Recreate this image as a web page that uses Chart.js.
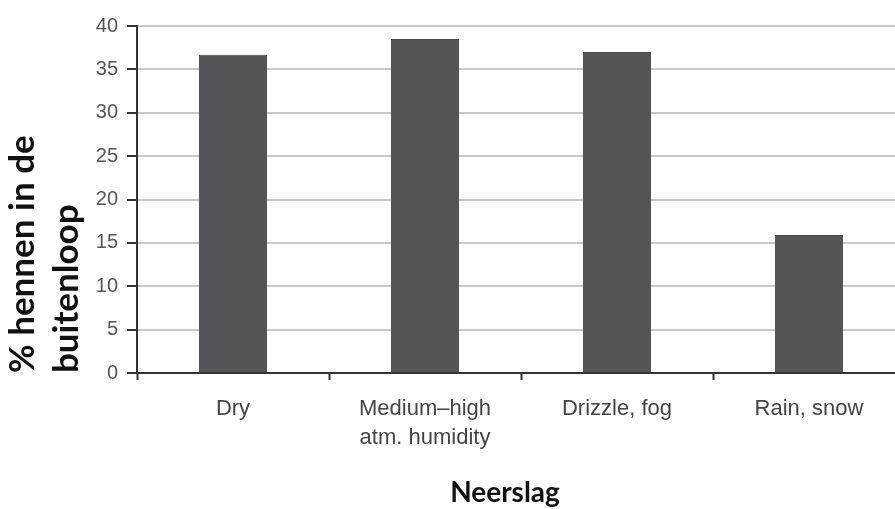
<!DOCTYPE html>
<html>
<head>
<meta charset="utf-8">
<script src="https://cdn.jsdelivr.net/npm/chart.js@4.4.1/dist/chart.umd.min.js"></script>
<style>
  html, body { margin: 0; padding: 0; background: #fff; overflow: hidden; width: 895px; height: 509px; }
  #wrap { position: relative; width: 905px; height: 509px; }
</style>
</head>
<body>
<div id="wrap"><canvas id="c"></canvas></div>
<script>
// Share of hens using the outdoor run, by precipitation type
const categories = [["Dry"], ["Medium–high", "atm. humidity"], ["Drizzle, fog"], ["Rain, snow"]];
const hensOutside = [36.7, 38.5, 37.0, 15.9];
const yTitle = ["% hennen in de", "buitenloop"];
const xTitle = "Neerslag";

const axisDark = "#333333";

// Bottom title drawn centred under the plot
const xTitlePlugin = {
  id: "xTitle",
  afterDraw(chart) {
    const ctx = chart.ctx;
    const area = chart.chartArea;
    ctx.save();
    ctx.font = "bold 28px Lato";
    ctx.fillStyle = "#111111";
    ctx.textAlign = "center";
    ctx.textBaseline = "middle";
    ctx.fillText(xTitle, area.left + 368, 493);
    ctx.restore();
  }
};

new Chart(document.getElementById("c"), {
  type: "bar",
  data: {
    labels: categories,
    datasets: [{
      data: hensOutside,
      backgroundColor: "#555557",
      borderColor: "#48484a",
      borderWidth: 1,
      barPercentage: 0.355,
      categoryPercentage: 1.0
    }]
  },
  options: {
    responsive: true,
    maintainAspectRatio: false,
    animation: false,
    layout: { padding: { top: 26, left: 0, right: 0, bottom: 0 } },
    plugins: {
      legend: { display: false },
      tooltip: { enabled: false }
    },
    scales: {
      x: {
        grid: {
          display: true,
          drawOnChartArea: false,
          drawTicks: true,
          tickLength: 7,
          tickColor: axisDark,
          tickWidth: 2
        },
        border: { display: true, color: axisDark, width: 2 },
        ticks: {
          color: "#444444",
          font: { family: "'Liberation Sans', Arial", size: 22, lineHeight: 1.32 },
          padding: 14,
          maxRotation: 0,
          autoSkip: false
        },
        afterFit(scale) { scale.height = 136; }
      },
      y: {
        min: 0,
        max: 40,
        ticks: {
          stepSize: 5,
          color: "#555555",
          font: { family: "'Liberation Sans', Arial", size: 20 },
          padding: 9
        },
        grid: {
          color: "#c8c8c8",
          lineWidth: 2,
          drawTicks: true,
          tickLength: 10,
          tickColor: axisDark,
          tickWidth: 2
        },
        border: { display: true, color: axisDark, width: 2 },
        title: {
          display: true,
          text: yTitle,
          align: "start",
          color: "#111111",
          font: { family: "Lato", weight: "bold", size: 35, lineHeight: 1.26 },
          padding: { top: 1, bottom: 0 }
        },
        afterFit(scale) { scale.width = 137; }
      }
    }
  },
  plugins: [xTitlePlugin]
});
</script>
</body>
</html>
